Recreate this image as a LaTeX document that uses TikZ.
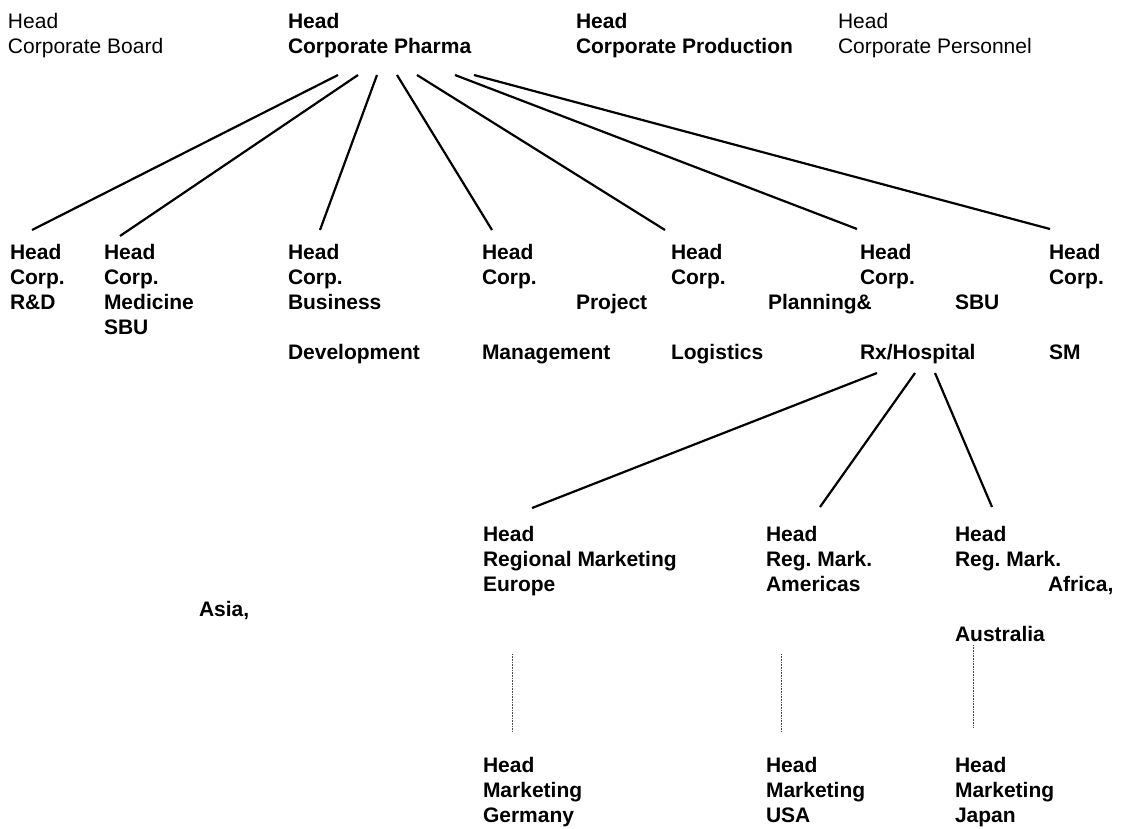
\documentclass[tikz,border=0pt]{standalone}
\usepackage{fontspec}
\setmainfont{Liberation Sans}
\frenchspacing
\begin{document}
\begin{tikzpicture}[x=1pt,y=-1pt,
  lbl/.style={anchor=north west, inner sep=0pt, outer sep=0pt, align=left, font=\fontsize{21}{25}\selectfont\frenchspacing},
  blbl/.style={lbl, font=\fontsize{21}{25}\selectfont\bfseries\frenchspacing},
  bword/.style={anchor=base west, inner sep=0pt, outer sep=0pt, font=\fontsize{21}{25}\selectfont\bfseries},
  conn/.style={line width=2.2pt},
  dots/.style={line width=0.7pt, black!70, dash pattern=on 0.8pt off 0.8pt}]
\useasboundingbox (0,0) rectangle (1125,828);
\fill[white] (0,0) rectangle (1125,828);

% top row
\node[lbl]  (board)      at (8,13)   {Head\\Corporate Board};
\node[blbl] (pharma)     at (288,13) {Head\\Corporate Pharma};
\node[blbl] (production) at (576,13) {Head\\Corporate Production};
\node[lbl]  (personnel)  at (838,13) {Head\\Corporate Personnel};

% second row
\node[blbl] (rd)   at (10,244.3)   {Head\\Corp.\\R\&D};
\node[blbl] (med)  at (104,244.3)  {Head\\Corp.\\Medicine\\SBU};
\node[blbl] (bus)  at (288,244.3)  {Head\\Corp.\\Business\\[25pt]Development};
\node[blbl] (pm)   at (482,244.3)  {Head\\Corp.\\[50pt]Management};
\node[bword] (project) at (576,309.5) {Project};
\node[blbl] (log)  at (671,244.3)  {Head\\Corp.\\[50pt]Logistics};
\node[bword] (planning) at (768,309.5) {Planning\&};
\node[blbl] (rx)   at (860,244.3)  {Head\\Corp.\\[50pt]Rx/Hospital};
\node[bword] (sbu) at (955,309.5) {SBU};
\node[blbl] (sm)   at (1049,244.3) {Head\\Corp.\\[50pt]SM};

% third row
\node[blbl] (europe)   at (483,525.8) {Head\\Regional Marketing\\Europe};
\node[blbl] (americas) at (766,525.8) {Head\\Reg. Mark.\\Americas};
\node[blbl] (africa)   at (955,525.8) {Head\\Reg. Mark.};
\node[bword] (africaw) at (1048,591) {Africa,};
\node[bword] (asia)    at (199,616) {Asia,};
\node[bword] (australia) at (955,641) {Australia};

% bottom row
\node[blbl] (germany) at (483,756.8) {Head\\Marketing\\Germany};
\node[blbl] (usa)     at (766,756.8) {Head\\Marketing\\USA};
\node[blbl] (japan)   at (955,756.8) {Head\\Marketing\\Japan};

% connector end points
\coordinate (p1) at (338,75);  \coordinate (c1) at (32,230);
\coordinate (p2) at (358,75);  \coordinate (c2) at (120,236);
\coordinate (p3) at (377,75);  \coordinate (c3) at (320,230);
\coordinate (p4) at (397,75);  \coordinate (c4) at (492,230);
\coordinate (p5) at (417,75);  \coordinate (c5) at (665,230);
\coordinate (p6) at (455,75);  \coordinate (c6) at (857,229);
\coordinate (p7) at (474,75);  \coordinate (c7) at (1050,229);

\coordinate (r1) at (877,373); \coordinate (e1) at (532,508);
\coordinate (r2) at (915,373); \coordinate (e2) at (820,507);
\coordinate (r3) at (935,373); \coordinate (e3) at (992,507);

\coordinate (g1) at (512,654); \coordinate (g2) at (512,731);
\coordinate (u1) at (781,654); \coordinate (u2) at (781,731);
\coordinate (j1) at (973,645); \coordinate (j2) at (973,728);

\draw[conn] (p1) -- (c1);
\draw[conn] (p2) -- (c2);
\draw[conn] (p3) -- (c3);
\draw[conn] (p4) -- (c4);
\draw[conn] (p5) -- (c5);
\draw[conn] (p6) -- (c6);
\draw[conn] (p7) -- (c7);

\draw[conn] (r1) -- (e1);
\draw[conn] (r2) -- (e2);
\draw[conn] (r3) -- (e3);

\draw[dots] (g1) -- (g2);
\draw[dots] (u1) -- (u2);
\draw[dots] (j1) -- (j2);
\end{tikzpicture}
\end{document}
